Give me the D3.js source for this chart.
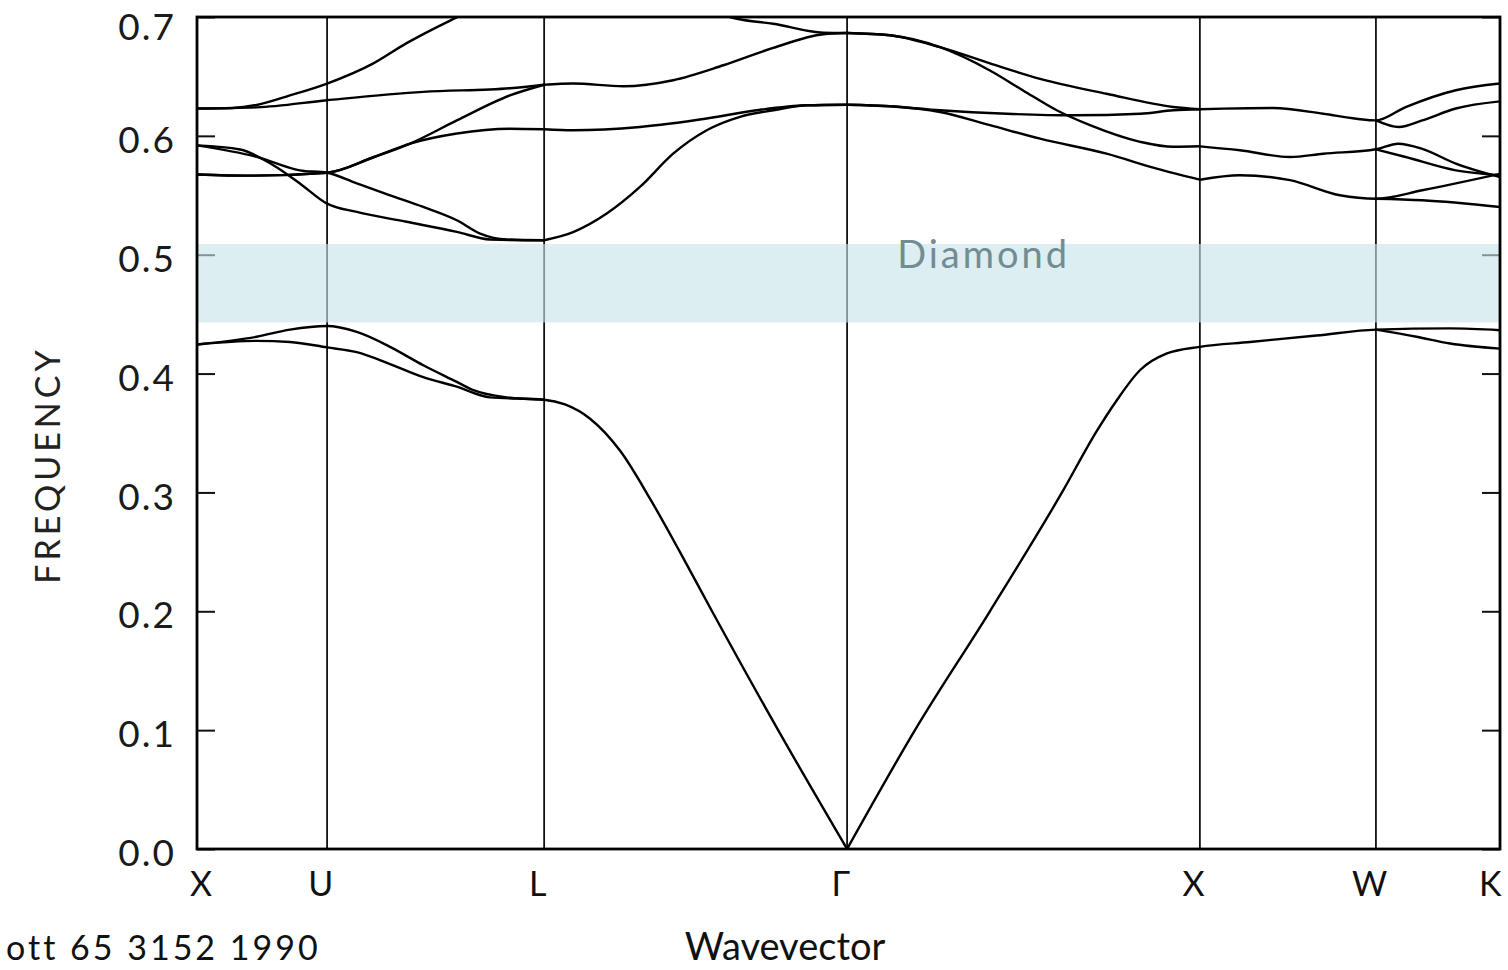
<!DOCTYPE html>
<html>
<head>
<meta charset="utf-8">
<script src="https://cdn.jsdelivr.net/npm/d3@7"></script>
<style>
body{margin:0;background:#fff}
text{font-family:Lato,"Open Sans",sans-serif}
</style>
</head>
<body>
<div id="bandas"></div>
<script>
//Puntos de simetria y ejes
var simbolos=["X","U","L","Γ","X","W","K"]
var posSimbolos=[0,0.368,0.982,1.839,2.837,3.335,3.686]
var ticksFrec=[0,0.1,0.2,0.3,0.4,0.5,0.6,0.7]
var gapDiamante=[0.443,0.509]

//Bandas altas X-U-L  [k, frecuencia]
var bandaA=[[0,0.623],[0.1,0.6235],[0.169,0.626],[0.263,0.634],[0.368,0.644],[0.499,0.661],[0.593,0.678],[0.716,0.697],[0.78,0.706]]
var bandaB=[[0,0.623],[0.169,0.624],[0.368,0.630],[0.640,0.637],[0.885,0.640],[0.982,0.643]]
var bandaC=[[0,0.5675],[0.15,0.5665],[0.368,0.569],[0.499,0.582],[0.603,0.5935],[0.735,0.613],[0.885,0.634],[0.982,0.643]]
var bandaD=[[0,0.5675],[0.15,0.5665],[0.368,0.569],[0.499,0.582],[0.603,0.5935],[0.735,0.602],[0.885,0.606],[0.982,0.6055]]
var bandaP=[[0,0.592],[0.122,0.5885],[0.216,0.5753],[0.291,0.56],[0.368,0.543],[0.452,0.536],[0.593,0.5277],[0.735,0.5192],[0.829,0.5128],[0.923,0.5122],[0.982,0.5122]]
var bandaQ=[[0,0.592],[0.169,0.5823],[0.291,0.571],[0.368,0.569],[0.452,0.56],[0.546,0.55],[0.640,0.5402],[0.735,0.529],[0.801,0.5178],[0.876,0.5128],[0.982,0.5122]]
//L-Gamma
var bandaE=[[0.982,0.5122],[1.064,0.519],[1.159,0.5346],[1.253,0.557],[1.347,0.585],[1.442,0.6047],[1.536,0.616],[1.630,0.6215],[1.725,0.6257],[1.839,0.6262]]
var bandaF=[[0.982,0.6055],[1.064,0.6047],[1.253,0.6075],[1.442,0.6146],[1.583,0.6215],[1.725,0.6257],[1.839,0.6262]]
var bandaG=[[0.982,0.643],[1.064,0.644],[1.206,0.6417],[1.347,0.6468],[1.489,0.6594],[1.630,0.674],[1.772,0.6855],[1.839,0.6865]]
var bandaH=[[1.45,0.705],[1.527,0.6985],[1.630,0.6943],[1.772,0.6868],[1.839,0.6865]]
//Gamma-X
var bandaI=[[1.839,0.6865],[1.960,0.6846],[2.102,0.6746],[2.243,0.661],[2.385,0.648],[2.573,0.6354],[2.762,0.6243],[2.837,0.6224]]
var bandaJ=[[1.839,0.6865],[1.960,0.6846],[2.102,0.6746],[2.243,0.655],[2.338,0.638],[2.432,0.6215],[2.526,0.609],[2.668,0.595],[2.762,0.5908],[2.837,0.5912]]
var bandaK1=[[1.839,0.6262],[1.960,0.6249],[2.102,0.6215],[2.291,0.6186],[2.479,0.6173],[2.668,0.6186],[2.762,0.6215],[2.837,0.6224]]
var bandaK2=[[1.839,0.6262],[1.960,0.6249],[2.102,0.6201],[2.243,0.609],[2.385,0.5976],[2.573,0.585],[2.715,0.5724],[2.837,0.5631]]
//X-W-K
var bandaL1=[[2.837,0.6224],[2.903,0.6229],[3.044,0.6234],[3.186,0.6186],[3.280,0.6144],[3.335,0.613],[3.419,0.6242],[3.561,0.6384],[3.686,0.644]]
var bandaL2=[[3.335,0.613],[3.40,0.6074],[3.466,0.613],[3.561,0.623],[3.686,0.629]]
var bandaM1=[[2.837,0.5912],[2.950,0.5879],[3.092,0.5822],[3.186,0.585],[3.335,0.5887],[3.398,0.5934],[3.466,0.5891],[3.561,0.5766],[3.686,0.5653]]
var bandaM2=[[3.335,0.5887],[3.419,0.5822],[3.561,0.571],[3.686,0.5668]]
var bandaN1=[[2.837,0.5631],[2.950,0.5669],[3.092,0.5627],[3.233,0.55],[3.335,0.5471],[3.466,0.5542],[3.686,0.568]]
var bandaN2=[[3.335,0.5471],[3.466,0.5458],[3.686,0.5402]]
//Bandas bajas
var acustica1=[[0,0.4245],[0.169,0.4275],[0.263,0.4266],[0.368,0.422],[0.452,0.418],[0.546,0.408],[0.640,0.397],[0.735,0.389],[0.829,0.380],[0.982,0.378],[1.041,0.374],[1.112,0.362],[1.197,0.335],[1.281,0.295],[1.366,0.25],[1.457,0.2],[1.644,0.1],[1.839,0]]
var acustica2=[[0,0.4245],[0.169,0.431],[0.263,0.437],[0.368,0.440],[0.452,0.435],[0.546,0.4225],[0.640,0.407],[0.735,0.393],[0.782,0.386],[0.876,0.380],[0.982,0.378]]
var acustica3=[[1.839,0],[2.031,0.1],[2.243,0.2],[2.447,0.3],[2.546,0.352],[2.603,0.378],[2.668,0.403],[2.744,0.417],[2.837,0.4225],[2.979,0.4266],[3.167,0.432],[3.335,0.437],[3.545,0.438],[3.686,0.4365]]
var acustica4=[[3.335,0.437],[3.45,0.431],[3.545,0.4253],[3.686,0.421]]

var bandas=[bandaA,bandaB,bandaC,bandaD,bandaP,bandaQ,bandaE,bandaF,bandaG,bandaH,bandaI,bandaJ,bandaK1,bandaK2,
	bandaL1,bandaL2,bandaM1,bandaM2,bandaN1,bandaN2,acustica1,acustica2,acustica3,acustica4]

estructura()
function estructura(){
	var margin={top:17,bottom:121,left:197,right:8}
	var ancho=1508-margin.left-margin.right
	var alto=970-margin.top-margin.bottom

	var svg1=d3.select("#bandas")
		.append("svg")
		.attr("width",1508)
		.attr("height",970)

	svg1.append("defs").append("clipPath")
		.attr("id","recorte")
		.append("rect")
		.attr("width",ancho)
		.attr("height",alto)

	var svg=svg1.append("g")
		.attr("transform","translate("+margin.left+","+margin.top+")")

	//Escalas
	var escalaX=d3.scaleLinear()
		.domain([0,posSimbolos[posSimbolos.length-1]])
		.range([0,ancho])
	var escalaY=d3.scaleLinear()
		.domain([0,0.7])
		.range([alto,0])

	//Lineas verticales en los puntos de simetria
	svg.selectAll(".simetria")
		.data(posSimbolos.slice(1,-1))
		.enter()
		.append("line")
		.attr("class","simetria")
		.attr("x1",d=>escalaX(d))
		.attr("x2",d=>escalaX(d))
		.attr("y1",0)
		.attr("y2",alto)
		.style("stroke","#111")
		.style("stroke-width",1.8)

	//Bandas
	var linea=d3.line()
		.x(d=>escalaX(d[0]))
		.y(d=>escalaY(d[1]))
		.curve(d3.curveMonotoneX)
	svg.append("g")
		.attr("clip-path","url(#recorte)")
		.selectAll("path")
		.data(bandas)
		.enter()
		.append("path")
		.attr("d",linea)
		.style("fill","none")
		.style("stroke","#000")
		.style("stroke-width",2.4)

	//Ejes
	var ejeY=svg.append("g")
		.call(d3.axisLeft(escalaY).tickValues(ticksFrec).tickSize(-18).tickPadding(21).tickFormat(d3.format(".1f")))
	ejeY.selectAll("text").style("font-size","37px").style("letter-spacing","2px").style("fill","#1a1a1a")
		.attr("dy",d=>d==0.7?"0.6em":"0.45em")
	var ejeY2=svg.append("g")
		.attr("transform","translate("+ancho+",0)")
		.call(d3.axisRight(escalaY).tickValues(ticksFrec).tickSize(-18).tickFormat(""))
	var ejeX=svg.append("g")
		.attr("transform","translate(0,"+alto+")")
		.call(d3.axisBottom(escalaX).tickValues(posSimbolos).tickSize(0).tickPadding(23).tickFormat((d,i)=>simbolos[i]))
	ejeX.selectAll("text").style("font-size","34px").style("fill","#111")
		.attr("dx",(d,i)=>i==0?"0.1em":(i==simbolos.length-1?"-0.3em":"-0.2em"))
	;[ejeX,ejeY,ejeY2].forEach(e=>{
		e.select(".domain").remove()
		e.selectAll("line").style("stroke","#111").style("stroke-width",2)
	})

	//Gap fotonico (encima de lineas y ticks)
	svg.append("rect")
		.attr("x",0)
		.attr("width",ancho)
		.attr("y",escalaY(gapDiamante[1]))
		.attr("height",escalaY(gapDiamante[0])-escalaY(gapDiamante[1]))
		.style("fill","rgb(198,228,233)")
		.style("opacity",0.62)

	svg.append("text")
		.attr("x",escalaX(2.225))
		.attr("y",escalaY(0.4885))
		.attr("text-anchor","middle")
		.style("font-size","38px")
		.style("letter-spacing","3px")
		.style("fill","#728c91")
		.text("Diamond")

	//Marco
	svg.append("rect")
		.attr("width",ancho)
		.attr("height",alto)
		.style("fill","none")
		.style("stroke","#000")
		.style("stroke-width",2.8)

	//Titulos
	svg1.append("text")
		.attr("transform","translate(60,465) rotate(-90)")
		.attr("text-anchor","middle")
		.style("font-size","34px")
		.style("letter-spacing","4px")
		.style("fill","#222")
		.text("FREQUENCY")
	svg1.append("text")
		.attr("x",785)
		.attr("y",960)
		.attr("text-anchor","middle")
		.style("font-size","38px")
		.style("fill","#111")
		.text("Wavevector")
	svg1.append("text")
		.attr("x",6)
		.attr("y",960)
		.style("font-size","34px")
		.style("letter-spacing","3px")
		.style("fill","#111")
		.text("ott 65 3152 1990")
}
</script>
</body>
</html>
